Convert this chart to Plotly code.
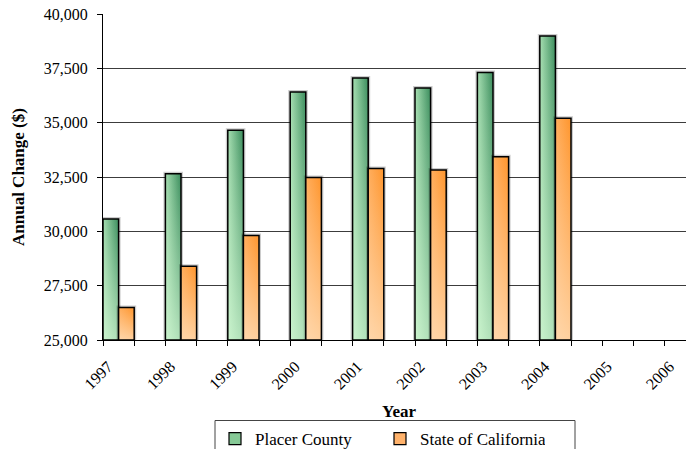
import plotly.graph_objects as go

# Annual values, 1997-2006 (no figures yet for 2005 and 2006)
years = [1997, 1998, 1999, 2000, 2001, 2002, 2003, 2004, 2005, 2006]
placer_county = [30570, 32650, 34650, 36410, 37050, 36590, 37310, 38990, None, None]
state_of_california = [26490, 28390, 29810, 32480, 32890, 32820, 33430, 35200, None, None]
year_labels = [str(y) for y in years]

Y_MIN, Y_MAX, Y_STEP = 25000, 40000, 2500
BAR_W = 0.25          # bar width in years
X_LEFT = 1996.75      # left edge of the value axis
X_RIGHT = X_LEFT + 583 / 62.4

FONT = "Liberation Serif"

series = [
    dict(name="Placer County", values=placer_county, offset=-BAR_W,
         left="#a6deb1", right="#3b8d5d", wash="rgba(214,250,214,{a})",
         legend="#86c996"),
    dict(name="State of California", values=state_of_california, offset=0.0,
         left="#ffae5e", right="#ff952c", wash="rgba(255,228,196,{a})",
         legend="#ffb26b"),
]

fig = go.Figure()

for s in series:
    # soft grey halo behind the bars
    hx, hy, ox, oy = [], [], [], []
    for yr, v in zip(years, s["values"]):
        if v is None:
            continue
        x0 = yr + s["offset"]
        x1 = x0 + BAR_W
        xs = [x0, x0, x1, x1, x0]
        ys = [Y_MIN, v, v, Y_MIN, Y_MIN]
        hx += xs + [None]
        hy += ys + [None]
        ox += xs + [None]
        oy += ys + [None]
    fig.add_trace(go.Scatter(x=hx, y=hy, mode="lines", showlegend=False,
                             hoverinfo="skip",
                             line=dict(color="rgba(0,0,0,0.2)", width=4)))

    for yr, v in zip(years, s["values"]):
        if v is None:
            continue
        x0 = yr + s["offset"]
        x1 = x0 + BAR_W
        xs = [x0, x0, x1, x1, x0]
        ys = [Y_MIN, v, v, Y_MIN, Y_MIN]
        # left-to-right shading
        fig.add_trace(go.Scatter(
            x=xs, y=ys, mode="lines", fill="toself", showlegend=False,
            hoverinfo="skip", line=dict(width=0, color="rgba(0,0,0,0)"),
            fillgradient=dict(type="horizontal", start=x0, stop=x1,
                              colorscale=[[0, s["left"]], [1, s["right"]]]),
        ))
        # lighter towards the base
        fig.add_trace(go.Scatter(
            x=xs, y=ys, mode="lines", fill="toself", showlegend=False,
            hoverinfo="skip", line=dict(width=0, color="rgba(0,0,0,0)"),
            fillgradient=dict(type="vertical", start=Y_MIN, stop=v,
                              colorscale=[[0, s["wash"].format(a=0.75)],
                                          [1, s["wash"].format(a=0.0)]]),
        ))

    # black bar outlines
    fig.add_trace(go.Scatter(x=ox, y=oy, mode="lines", showlegend=False,
                             hoverinfo="skip",
                             line=dict(color="black", width=1.5)))

# legend entries
for s in series:
    fig.add_trace(go.Bar(x=[None], y=[None], name=s["name"],
                         marker=dict(color=s["legend"],
                                     line=dict(color="black", width=1.2))))

fig.update_layout(
    width=686, height=449,
    margin=dict(l=103, r=0, t=14, b=109, autoexpand=False),
    paper_bgcolor="white", plot_bgcolor="white",
    font=dict(family=FONT, color="black", size=16),
    showlegend=True,
    legend=dict(orientation="h", x=(215 - 103) / 583, y=(340 - 421) / 326,
                xanchor="left", yanchor="top",
                borderwidth=0, bgcolor="rgba(0,0,0,0)",
                font=dict(family=FONT, size=17),
                entrywidth=120, entrywidthmode="pixels",
                traceorder="normal"),
    # legend frame
    shapes=[dict(type="rect", xref="paper", yref="paper",
                 x0=(215 - 103) / 583, x1=(575 - 103) / 583,
                 y0=(340 - 460) / 326, y1=(340 - 420.5) / 326,
                 line=dict(color="#444444", width=1),
                 fillcolor="white", layer="below")],
    annotations=[
        dict(text="<b>Year</b>", xref="paper", yref="paper",
             x=(399 - 103) / 583, y=(340 - 411) / 326,
             xanchor="center", yanchor="middle", showarrow=False,
             font=dict(family=FONT, size=17)),
        dict(text="<b>Annual Change ($)</b>", xref="paper", yref="paper",
             x=(18 - 103) / 583, y=0.5, textangle=-90,
             xanchor="center", yanchor="middle", showarrow=False,
             font=dict(family=FONT, size=17)),
    ],
)

fig.update_yaxes(
    range=[Y_MIN, Y_MAX], dtick=Y_STEP, tick0=Y_MIN, tickformat=",",
    showgrid=True, gridcolor="#3c3c3c", gridwidth=1,
    showline=True, linecolor="black", linewidth=1,
    ticks="outside", ticklen=5, tickcolor="black", tickwidth=1,
    ticklabelstandoff=6, zeroline=False,
    tickfont=dict(family=FONT, size=16),
)

fig.update_xaxes(
    range=[X_LEFT, X_RIGHT],
    tickmode="array", tickvals=[y - 0.17 for y in years], ticktext=year_labels,
    tickangle=-45, ticks="", showgrid=False, zeroline=False,
    showline=True, linecolor="black", linewidth=1,
    ticklabelstandoff=10,
    tickfont=dict(family=FONT, size=16),
    minor=dict(ticks="outside", ticklen=5, tickcolor="black", tickwidth=1,
               tickmode="array",
               tickvals=[X_LEFT + 0.5 * k for k in range(20)],
               showgrid=False),
)

fig.write_html("out.html")
